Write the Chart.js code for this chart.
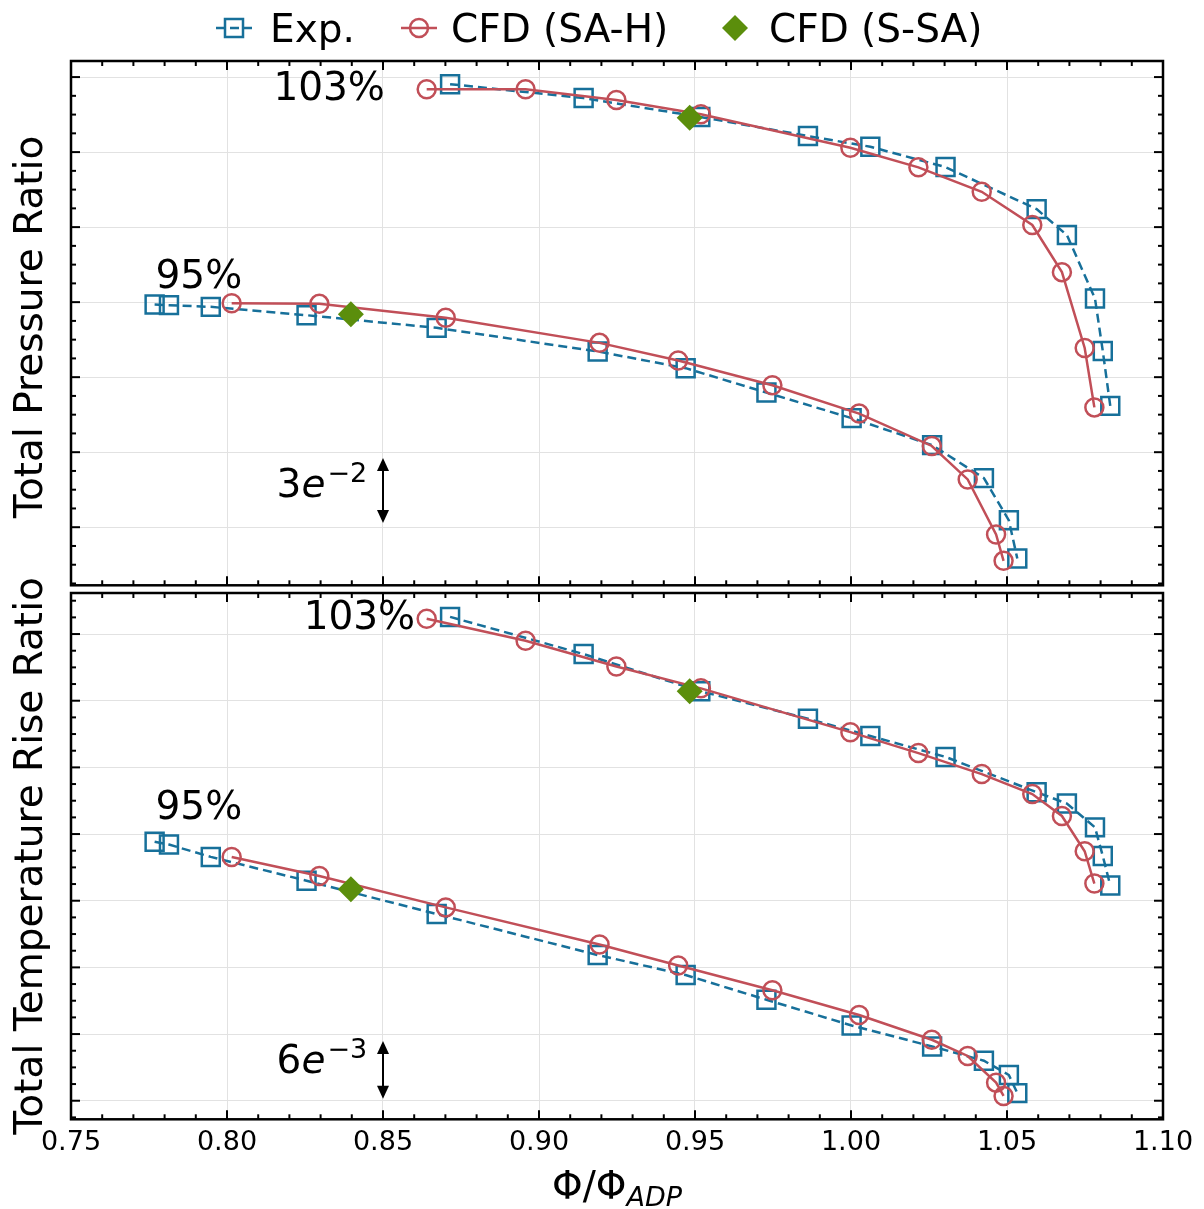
<!DOCTYPE html>
<html>
<head>
<meta charset="utf-8">
<script src="https://cdn.jsdelivr.net/npm/chart.js@4.4.1/dist/chart.umd.min.js"></script>
<style>
  html, body { margin: 0; padding: 0; background: #fff; }
  #wrap { position: relative; width: 1204px; height: 1209px; }
  #wrap canvas { position: absolute; left: 0; }
</style>
</head>
<body>
<div id="wrap">
  <canvas id="chartPR" width="1204" height="590" style="top:0"></canvas>
  <canvas id="chartTR" width="1204" height="649" style="top:560px"></canvas>
</div>
<script>
Chart.defaults.font.family = "'DejaVu Sans', sans-serif";
Chart.defaults.color = '#000';

const FONT  = "'DejaVu Sans', sans-serif";
const BLUE  = '#17709a';
const RED   = '#c14f58';
const GREEN = '#5b8e0c';
const GRID_COLOR = '#e2e2e2';

// --- data: flow coefficient Phi/Phi_ADP ---
const EXP_95_PHI  = [0.7768, 0.7814, 0.7948, 0.8255, 0.8672, 0.9188, 0.9470, 0.9729, 1.0002, 1.0260, 1.0426, 1.0506, 1.0533];
const EXP_103_PHI = [0.8715, 0.9143, 0.9517, 0.9862, 1.0062, 1.0303, 1.0595, 1.0692, 1.0782, 1.0807, 1.0831];
const CFD_95_PHI  = [0.8015, 0.8296, 0.8701, 0.9194, 0.9446, 0.9748, 1.0026, 1.0259, 1.0374, 1.0465, 1.0489];
const CFD_103_PHI = [0.8640, 0.8957, 0.9248, 0.9519, 0.9998, 1.0216, 1.0419, 1.0581, 1.0676, 1.0749, 1.0780];
const SSA_PHI     = [0.8397, 0.9483];

// total pressure ratio
const EXP_95_PR  = [1.4939, 1.4936, 1.4928, 1.4889, 1.4830, 1.4720, 1.4642, 1.4528, 1.4409, 1.4283, 1.4129, 1.3932, 1.3754];
const EXP_103_PR = [1.5967, 1.5902, 1.5814, 1.5725, 1.5675, 1.5580, 1.5384, 1.5263, 1.4967, 1.4722, 1.4466];
const CFD_95_PR  = [1.4945, 1.4942, 1.4877, 1.4760, 1.4678, 1.4562, 1.4430, 1.4279, 1.4123, 1.3866, 1.3743];
const CFD_103_PR = [1.5943, 1.5943, 1.5893, 1.5827, 1.5670, 1.5579, 1.5465, 1.5310, 1.5090, 1.4736, 1.4459];
const SSA_PR     = [1.4893, 1.5810];

// total temperature rise ratio
const EXP_95_TR  = [1.1782, 1.1779, 1.1766, 1.1741, 1.1706, 1.1663, 1.1642, 1.1616, 1.1589, 1.1567, 1.1552, 1.1537, 1.1518];
const EXP_103_TR = [1.2018, 1.1979, 1.1940, 1.1911, 1.1893, 1.1871, 1.1834, 1.1822, 1.1797, 1.1767, 1.1736];
const CFD_95_TR  = [1.1766, 1.1746, 1.1713, 1.1674, 1.1652, 1.1626, 1.1600, 1.1574, 1.1557, 1.1529, 1.1515];
const CFD_103_TR = [1.2016, 1.1993, 1.1966, 1.1943, 1.1897, 1.1875, 1.1853, 1.1832, 1.1809, 1.1772, 1.1738];
const SSA_TR     = [1.1732, 1.1940];

// ticks
const PHI_TICKS = [0.75, 0.80, 0.85, 0.90, 0.95, 1.00, 1.05, 1.10];
const PR_TICKS  = [1.390, 1.425, 1.460, 1.495, 1.530, 1.565, 1.600];
const TR_TICKS  = [1.151, 1.158, 1.165, 1.172, 1.179, 1.186, 1.193, 1.200];

function series(xs, ys, style) {
  return Object.assign({ data: xs.map((x, i) => ({ x, y: ys[i] })) }, style);
}

const EXP_STYLE = {
  label: 'Exp.', borderColor: BLUE, borderWidth: 2.5, borderDash: [9, 5],
  pointStyle: 'rect', pointRadius: 12.7, pointBorderWidth: 2.5,
  pointBorderColor: BLUE, pointBackgroundColor: 'rgba(0,0,0,0)',
  backgroundColor: 'rgba(0,0,0,0)', fill: false, tension: 0,
};
const CFD_STYLE = {
  label: 'CFD (SA-H)', borderColor: RED, borderWidth: 2.5,
  pointStyle: 'circle', pointRadius: 9, pointBorderWidth: 2.5,
  pointBorderColor: RED, pointBackgroundColor: 'rgba(0,0,0,0)',
  backgroundColor: 'rgba(0,0,0,0)', fill: false, tension: 0,
};
const SSA_STYLE = {
  label: 'CFD (S-SA)', showLine: false, pointStyle: 'rectRot', pointRadius: 13,
  pointBorderWidth: 0, pointBackgroundColor: GREEN, pointBorderColor: GREEN,
  backgroundColor: GREEN, borderColor: GREEN,
};

function line(ctx, x1, y1, x2, y2) {
  ctx.beginPath(); ctx.moveTo(x1, y1); ctx.lineTo(x2, y2); ctx.stroke();
}

function minorTicks(majors, n, min, max) {
  const step = (majors[1] - majors[0]) / n;
  const out = [];
  for (let k = -2 * n; k <= (majors.length + 1) * n; k++) {
    if (k % n === 0) continue;
    const v = majors[0] + k * step;
    if (v > min && v < max) out.push(v);
  }
  return out;
}

function drawMarker(ctx, kind, x, y) {
  ctx.save();
  ctx.lineWidth = 2.5;
  if (kind === 'rect') {
    ctx.strokeStyle = BLUE;
    ctx.strokeRect(x - 9, y - 9, 18, 18);
  } else if (kind === 'circle') {
    ctx.strokeStyle = RED;
    ctx.beginPath(); ctx.arc(x, y, 9, 0, Math.PI * 2); ctx.stroke();
  } else {
    ctx.fillStyle = GREEN;
    ctx.beginPath();
    ctx.moveTo(x, y - 13); ctx.lineTo(x + 13, y); ctx.lineTo(x, y + 13); ctx.lineTo(x - 13, y);
    ctx.closePath(); ctx.fill();
  }
  ctx.restore();
}

function drawArrow(ctx, x, y1, y2) {
  ctx.save();
  ctx.strokeStyle = '#000'; ctx.fillStyle = '#000'; ctx.lineWidth = 2;
  line(ctx, x, y1 + 8, x, y2 - 8);
  ctx.beginPath(); ctx.moveTo(x, y1); ctx.lineTo(x - 6, y1 + 13); ctx.lineTo(x + 6, y1 + 13); ctx.closePath(); ctx.fill();
  ctx.beginPath(); ctx.moveTo(x, y2); ctx.lineTo(x - 6, y2 - 13); ctx.lineTo(x + 6, y2 - 13); ctx.closePath(); ctx.fill();
  ctx.restore();
}

/** frame, inward ticks, texts and arrows */
const decorPlugin = {
  id: 'decor',
  afterDraw(chart, args, o) {
    const { ctx, chartArea: a, scales: { x, y } } = chart;
    ctx.save();
    ctx.strokeStyle = '#000';
    ctx.lineWidth = 2;
    // x ticks, bottom + top
    PHI_TICKS.forEach(v => {
      const px = x.getPixelForValue(v);
      line(ctx, px, a.bottom, px, a.bottom - 9);
      line(ctx, px, a.top, px, a.top + 9);
    });
    minorTicks(PHI_TICKS, 5, x.min, x.max).forEach(v => {
      const px = x.getPixelForValue(v);
      line(ctx, px, a.bottom, px, a.bottom - 5);
      line(ctx, px, a.top, px, a.top + 5);
    });
    // y ticks, left + right
    o.yTicks.forEach(v => {
      const py = y.getPixelForValue(v);
      line(ctx, a.left, py, a.left + 9, py);
      line(ctx, a.right, py, a.right - 9, py);
    });
    minorTicks(o.yTicks, 4, y.min, y.max).forEach(v => {
      const py = y.getPixelForValue(v);
      line(ctx, a.left, py, a.left + 5, py);
      line(ctx, a.right, py, a.right - 5, py);
    });
    ctx.lineWidth = 2.5;
    ctx.strokeRect(a.left, a.top, a.right - a.left, a.bottom - a.top);

    // speed-line labels
    ctx.fillStyle = '#000';
    ctx.textBaseline = 'alphabetic';
    ctx.font = '39px ' + FONT;
    o.notes.forEach(n => {
      ctx.textAlign = n.align;
      ctx.fillText(n.text, x.getPixelForValue(n.x), y.getPixelForValue(n.y));
    });

    // scale bar: "3e^-2" + double arrow
    const s = o.scaleBar;
    const sx = x.getPixelForValue(s.x), sy = y.getPixelForValue(s.y);
    ctx.textAlign = 'left';
    ctx.font = '39px ' + FONT;
    ctx.fillText(s.base, sx, sy);
    let w = ctx.measureText(s.base).width;
    ctx.font = 'italic 39px ' + FONT;
    ctx.fillText('e', sx + w, sy);
    w += ctx.measureText('e').width;
    ctx.font = '27px ' + FONT;
    ctx.fillText(s.exp, sx + w + 2, sy - 15);
    drawArrow(ctx, x.getPixelForValue(s.arrowX), y.getPixelForValue(s.arrow[0]), y.getPixelForValue(s.arrow[1]));

    // y title
    ctx.save();
    ctx.translate(42, o.yTitleY);
    ctx.rotate(-Math.PI / 2);
    ctx.textAlign = 'center';
    ctx.font = '39px ' + FONT;
    ctx.fillText(o.yTitle, 0, 0);
    ctx.restore();

    if (o.xTitle) {
      const cx = (a.left + a.right) / 2;
      ctx.font = '39px ' + FONT;
      const w1 = ctx.measureText('Φ/Φ').width;
      ctx.font = 'italic 27px ' + FONT;
      const w2 = ctx.measureText('ADP').width;
      const x0 = cx - (w1 + w2) / 2;
      ctx.textAlign = 'left';
      ctx.font = '39px ' + FONT;
      ctx.fillText('Φ/Φ', x0, o.xTitle);
      ctx.font = 'italic 27px ' + FONT;
      ctx.fillText('ADP', x0 + w1, o.xTitle + 7);
    }

    if (o.legend) {
      const ly = 28;
      ctx.lineWidth = 2.5;
      ctx.strokeStyle = BLUE; ctx.setLineDash([9, 5]);
      line(ctx, 216, ly, 252, ly);
      ctx.setLineDash([]);
      drawMarker(ctx, 'rect', 234, ly);
      ctx.strokeStyle = RED;
      line(ctx, 401, ly, 437, ly);
      drawMarker(ctx, 'circle', 419, ly);
      drawMarker(ctx, 'diamond', 735, ly);
      ctx.font = '39px ' + FONT;
      ctx.textAlign = 'left';
      ctx.fillText('Exp.', 270, 42);
      ctx.fillText('CFD (SA-H)', 451, 42);
      ctx.fillText('CFD (S-SA)', 769, 42);
    }
    ctx.restore();
  },
};

function makeChart(id, cfg) {
  return new Chart(document.getElementById(id), {
    type: 'line',
    data: {
      datasets: [
        series(SSA_PHI, cfg.ssa, SSA_STYLE),
        series(CFD_95_PHI, cfg.cfd95, CFD_STYLE),
        series(CFD_103_PHI, cfg.cfd103, CFD_STYLE),
        series(EXP_95_PHI, cfg.exp95, EXP_STYLE),
        series(EXP_103_PHI, cfg.exp103, EXP_STYLE),
      ],
    },
    options: {
      responsive: false, animation: false, devicePixelRatio: 1,
      events: [],
      layout: { padding: cfg.padding, autoPadding: false },
      plugins: { legend: { display: false }, tooltip: { enabled: false }, decor: cfg.decor },
      scales: {
        x: {
          type: 'linear', min: 0.75, max: 1.10,
          afterBuildTicks: axis => { axis.ticks = PHI_TICKS.map(v => ({ value: v })); },
          grid: { color: GRID_COLOR, lineWidth: 1, drawTicks: false },
          border: { display: false },
          ticks: {
            display: cfg.xLabels, padding: 7, color: '#000',
            font: { size: 27, family: FONT },
            callback: v => v.toFixed(2),
          },
        },
        y: {
          type: 'linear', min: cfg.yMin, max: cfg.yMax,
          afterBuildTicks: axis => { axis.ticks = cfg.yTicks.map(v => ({ value: v })); },
          grid: { color: GRID_COLOR, lineWidth: 1, drawTicks: false },
          border: { display: false },
          ticks: { display: false },
        },
      },
    },
    plugins: [decorPlugin],
  });
}

makeChart('chartPR', {
  ssa: SSA_PR, cfd95: CFD_95_PR, cfd103: CFD_103_PR, exp95: EXP_95_PR, exp103: EXP_103_PR,
  yMin: 1.3629, yMax: 1.6075, yTicks: PR_TICKS, xLabels: false,
  padding: { top: 61, left: 71, right: 41, bottom: 4.7 },
  decor: {
    yTicks: PR_TICKS,
    notes: [
      { text: '103%', x: 0.8506, y: 1.5893, align: 'right' },
      { text: '95%', x: 0.7771, y: 1.5015, align: 'left' },
    ],
    scaleBar: { base: '3', exp: '−2', x: 0.8159, y: 1.4041, arrowX: 0.85, arrow: [1.4223, 1.3920] },
    yTitle: 'Total Pressure Ratio', yTitleY: 327, legend: true,
  },
});

makeChart('chartTR', {
  ssa: SSA_TR, cfd95: CFD_95_TR, cfd103: CFD_103_TR, exp95: EXP_95_TR, exp103: EXP_103_TR,
  yMin: 1.14905, yMax: 1.20431, yTicks: TR_TICKS, xLabels: true,
  padding: { top: 33, left: 71, right: 41, bottom: 43.3 },
  decor: {
    yTicks: TR_TICKS,
    notes: [
      { text: '103%', x: 0.8603, y: 1.2005, align: 'right' },
      { text: '95%', x: 0.7771, y: 1.1806, align: 'left' },
    ],
    scaleBar: { base: '6', exp: '−3', x: 0.8159, y: 1.1539, arrowX: 0.85, arrow: [1.15727, 1.15120] },
    yTitle: 'Total Temperature Rise Ratio', yTitleY: 296, xTitle: 639,
  },
});
</script>
</body>
</html>
